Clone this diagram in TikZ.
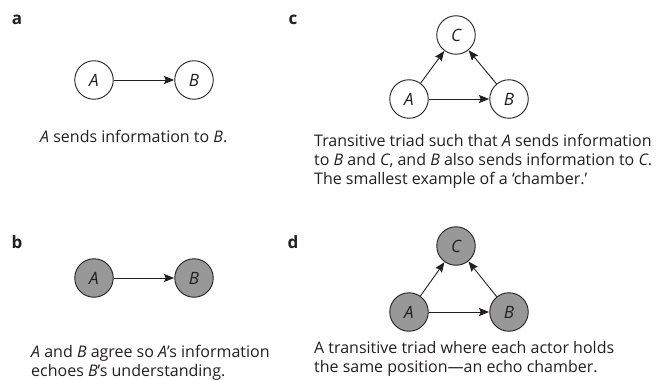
\documentclass[tikz,border=0pt]{standalone}
\usepackage{fontspec}
\setmainfont{Open Sans}
\usetikzlibrary{arrows.meta}
\definecolor{nodegray}{RGB}{152,152,152}
\definecolor{txt}{RGB}{35,31,32}
\tikzset{
  actor/.style={circle, draw=txt, line width=0.9pt, minimum size=38.5pt, inner sep=0pt, font=\fontsize{17}{18}\selectfont\itshape, text=txt},
  shaded/.style={actor, fill=nodegray},
  link/.style={draw=txt, line width=0.9pt, -{Stealth[length=10pt,width=8pt,inset=1.5pt]}, shorten >=0.2pt},
  panel/.style={font=\fontsize{17}{18}\selectfont\bfseries, text=txt, inner sep=0pt},
  caption/.style={anchor=north west, align=left, inner sep=0pt, text=txt, font=\fontsize{16}{19}\selectfont}
}
\begin{document}
\begin{tikzpicture}[x=1pt,y=-1pt]
\useasboundingbox (0,0) rectangle (662,380);
% panel a
\node[panel] (la) at (17,20) {a};
\node[actor] (a1) at (94,80) {A};
\node[actor] (a2) at (194,80) {B};
\draw[link] (a1) -- (a2);
\node[caption] (ca) at (40,130) {\textit{A} sends information to \textit{B}.};
% panel c
\node[panel] (lc) at (293,20) {c};
\node[actor] (c3) at (456,35) {C};
\node[actor] (c1) at (409,99) {A};
\node[actor] (c2) at (509,99) {B};
\draw[link] (c1) -- (c2);
\draw[link] (c1) -- (c3);
\draw[link] (c2) -- (c3);
\node[caption] (cc) at (314,134) {Transitive triad such that \textit{A} sends information\\to \textit{B} and \textit{C}, and \textit{B} also sends information to \textit{C}.\\The smallest example of a ‘chamber.’};
% panel b
\node[panel] (lb) at (17,242) {b};
\node[shaded] (b1) at (94,278) {A};
\node[shaded] (b2) at (194,278) {B};
\draw[link] (b1) -- (b2);
\node[caption] (cb) at (31,345) {\textit{A} and \textit{B} agree so \textit{A}’s information\\echoes \textit{B}’s understanding.};
% panel d
\node[panel] (ld) at (293,242) {d};
\node[shaded] (d3) at (456,246) {C};
\node[shaded] (d1) at (409,312) {A};
\node[shaded] (d2) at (509,312) {B};
\draw[link] (d1) -- (d2);
\draw[link] (d1) -- (d3);
\draw[link] (d2) -- (d3);
\node[caption] (cd) at (314,341) {A transitive triad where each actor holds\\the same position—an echo chamber.};
\end{tikzpicture}
\end{document}
